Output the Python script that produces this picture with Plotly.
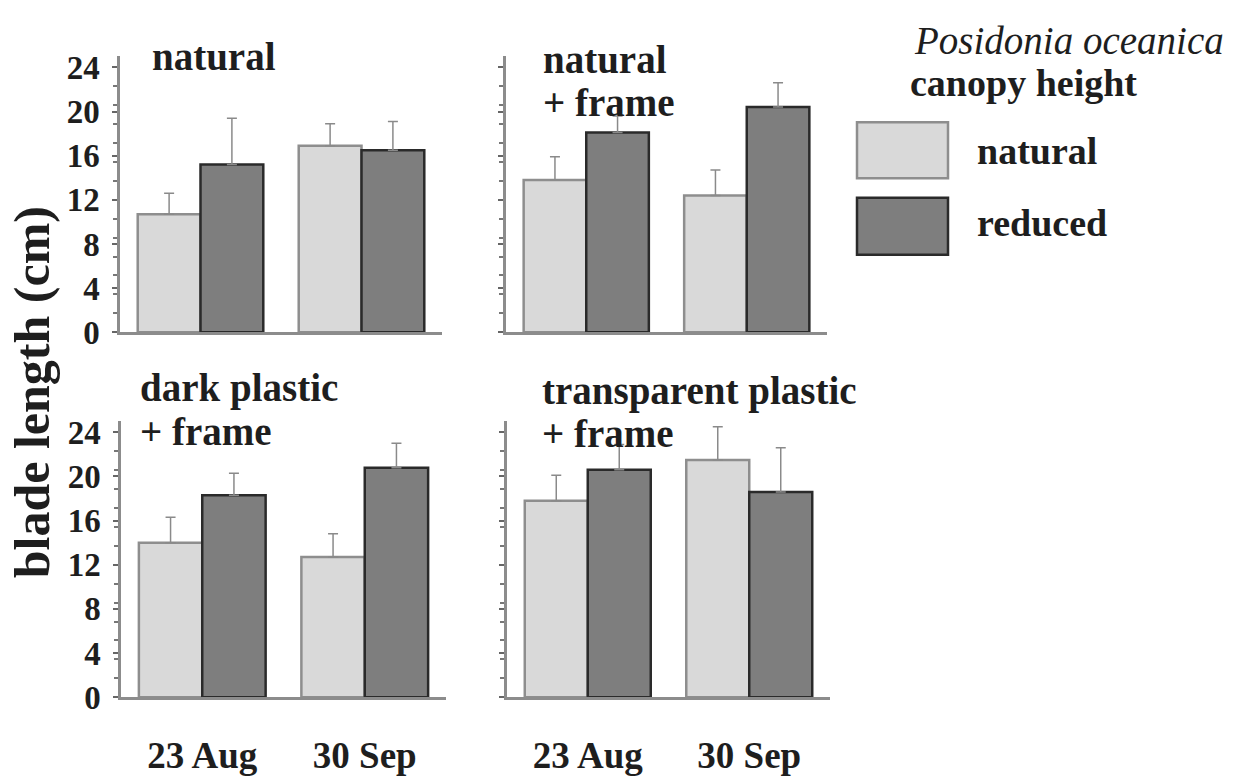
import plotly.graph_objects as go

# ---------------- data ----------------
dates = ["23 Aug", "30 Sep"]
panel_titles = [["natural"], ["natural", "+ frame"],
                ["dark plastic", "+ frame"], ["transparent plastic", "+ frame"]]
series_names = ["natural", "reduced"]

# blade length (cm), mean and upper error (SE) for natural / reduced canopy
natural_natural = [10.7, 16.9]
natural_natural_err = [1.9, 2.0]
natural_reduced = [15.2, 16.5]
natural_reduced_err = [4.2, 2.6]

frame_natural = [13.8, 12.4]
frame_natural_err = [2.1, 2.3]
frame_reduced = [18.1, 20.4]
frame_reduced_err = [1.5, 2.2]

dark_natural = [14.0, 12.7]
dark_natural_err = [2.3, 2.1]
dark_reduced = [18.3, 20.8]
dark_reduced_err = [2.0, 2.2]

trans_natural = [17.8, 21.5]
trans_natural_err = [2.3, 3.0]
trans_reduced = [20.6, 18.6]
trans_reduced_err = [2.3, 4.0]

y_ticks = [0, 4, 8, 12, 16, 20, 24]

panels = [
    (natural_natural, natural_natural_err, natural_reduced, natural_reduced_err),
    (frame_natural, frame_natural_err, frame_reduced, frame_reduced_err),
    (dark_natural, dark_natural_err, dark_reduced, dark_reduced_err),
    (trans_natural, trans_natural_err, trans_reduced, trans_reduced_err),
]

# ---------------- style ----------------
W, H = 1233, 782
FONT = "Liberation Serif"
TXT = "#1e1e1e"
AX = "#8c8c8c"
fill = {"natural": "#d9d9d9", "reduced": "#7e7e7e"}
edge = {"natural": "#8e8e8e", "reduced": "#2a2a2a"}

def px_x(p):
    return p / W

def px_y(p):
    return 1 - p / H

x_domains = [(120, 442), (506, 827), (121, 446), (507, 830)]
y_domains = [(52, 337), (52, 337), (429, 714), (429, 714)]

fig = go.Figure()

for i, (nv, ne, rv, re_) in enumerate(panels):
    k = "" if i == 0 else str(i + 1)
    for name, vals, errs in (("natural", nv, ne), ("reduced", rv, re_)):
        fig.add_trace(go.Bar(
            x=dates, y=vals, name=name, showlegend=False,
            xaxis="x" + k, yaxis="y" + k,
            marker=dict(color=fill[name], line=dict(color=edge[name], width=2.5)),
            error_y=dict(type="data", array=errs, arrayminus=[0] * len(errs),
                         symmetric=False, color="#8a8a8a", thickness=1.5, width=5),
        ))
    xd = x_domains[i]
    yd = y_domains[i]
    bottom = i >= 2
    left = i % 2 == 0
    fig.update_layout(**{
        "xaxis" + k: dict(
            domain=[px_x(xd[0]), px_x(xd[1])], anchor="y" + k,
            type="category", range=[-0.5, 1.5],
            showline=True, linecolor=AX, linewidth=2.5,
            ticks="", showgrid=False, zeroline=False,
            showticklabels=bottom, ticklabelstandoff=24,
            tickfont=dict(family=FONT, size=37, color=TXT, weight="bold"),
        ),
        "yaxis" + k: dict(
            domain=[px_y(yd[1]), px_y(yd[0])], anchor="x" + k,
            range=[0, 25], tickvals=y_ticks,
            showline=True, linecolor=AX, linewidth=2.5,
            ticks="outside", ticklen=5, tickcolor="#666", tickwidth=2,
            minor=dict(dtick=12 / 7, tick0=0, ticks="outside", ticklen=4,
                       tickcolor="#777", tickwidth=1.5),
            showgrid=False, zeroline=False,
            showticklabels=left, ticklabelstandoff=6,
            tickfont=dict(family=FONT, size=33, color=TXT, weight="bold"),
        ),
    })

annotations = []
# panel titles (one annotation per line)
title_pos = [(150, [52]), (541, [55, 100]), (138, [395, 440]), (540, [398, 442])]
for (x0, ys), lines in zip(title_pos, panel_titles):
    for yy, line in zip(ys, lines):
        annotations.append(dict(
            text="<b>%s</b>" % line, x=px_x(x0), y=px_y(yy), xref="paper", yref="paper",
            xanchor="left", yanchor="middle", showarrow=False,
            font=dict(family=FONT, size=39, color=TXT)))

# y-axis title
annotations.append(dict(
    text="<b>blade length (cm)</b>", x=px_x(32), y=px_y(399), xref="paper", yref="paper",
    xanchor="center", yanchor="middle", textangle=-90, showarrow=False,
    font=dict(family=FONT, size=50, color=TXT)))

# legend
annotations.append(dict(
    text="<i>Posidonia oceanica</i>", x=px_x(1226), y=px_y(36), xref="paper", yref="paper",
    xanchor="right", yanchor="middle", showarrow=False,
    font=dict(family=FONT, size=39, color=TXT)))
annotations.append(dict(
    text="<b>canopy height</b>", x=px_x(908), y=px_y(80), xref="paper", yref="paper",
    xanchor="left", yanchor="middle", showarrow=False,
    font=dict(family=FONT, size=38, color=TXT)))
shapes = []
for name, (yt, yb, ylab) in zip(series_names, [(120, 178, 150), (198, 257, 224)]):
    shapes.append(dict(type="rect", xref="paper", yref="paper",
                       x0=px_x(857), x1=px_x(948), y0=px_y(yb), y1=px_y(yt),
                       fillcolor=fill[name], line=dict(color=edge[name], width=2.5)))
    annotations.append(dict(
        text="<b>%s</b>" % name, x=px_x(975), y=px_y(ylab), xref="paper", yref="paper",
        xanchor="left", yanchor="middle", showarrow=False,
        font=dict(family=FONT, size=38, color=TXT)))

fig.update_layout(
    width=W, height=H, autosize=False,
    margin=dict(l=0, r=0, t=0, b=0),
    paper_bgcolor="white", plot_bgcolor="white",
    barmode="group", bargap=0.22, bargroupgap=0,
    annotations=annotations, shapes=shapes,
    font=dict(family=FONT, color=TXT),
)

fig.write_html("out.html", config={"displayModeBar": False},
               post_script="document.body.style.margin='0px';")
